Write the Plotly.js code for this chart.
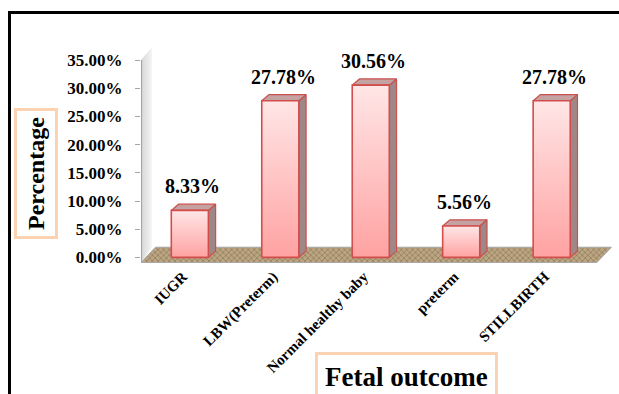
<!DOCTYPE html>
<html>
<head>
<meta charset="utf-8">
<script src="https://cdn.plot.ly/plotly-3.0.1.min.js"></script>
<style>
  html, body { margin:0; padding:0; background:#fff; }
  #frame { position:absolute; left:8px; top:11px; width:700px; height:500px; border:3px solid #000; }
  #chart { position:absolute; left:0; top:0; width:619px; height:394px; }
</style>
</head>
<body>
<div id="frame"></div>
<div id="chart"></div>
<script>
// ---- data ----
const categories = ['IUGR', 'LBW(Preterm)', 'Normal healthy baby', 'preterm', 'STILLBIRTH'];
const values = [8.33, 27.78, 30.56, 5.56, 27.78];
const yTickVals = [0, 5, 10, 15, 20, 25, 30, 35];
const yTickText = ['0.00%', '5.00%', '10.00%', '15.00%', '20.00%', '25.00%', '30.00%', '35.00%'];
const valueLabels = ['8.33%', '27.78%', '30.56%', '5.56%', '27.78%'];

// ---- styling / 3D geometry (in axis units) ----
const serif = '"Liberation Serif", "Times New Roman", serif';
const halfW = 0.205, dX = 0.08, dY = 1.1;
const xIdx = categories.map((c, i) => i);

const traces = [];

// floor
traces.push({
  type: 'scatter', mode: 'lines', fill: 'toself',
  x: [-0.54, 4.5, 4.66, -0.38, -0.54],
  y: [-0.9, -0.9, 1.8, 1.8, -0.9],
  fillcolor: '#A8916E',
  fillpattern: {shape: 'x', fgcolor: '#8C7452', bgcolor: '#BBA684', size: 4, solidity: 0.3},
  line: {color: '#A6A6A6', width: 1},
  hoverinfo: 'skip', showlegend: false
});
// side wall
traces.push({
  type: 'scatter', mode: 'lines', fill: 'toself',
  x: [-0.54, -0.54, -0.42, -0.42, -0.54],
  y: [-0.9, 35, 37.3, 1.8, -0.9],
  fillcolor: '#E4E4E4',
  fillgradient: {type: 'horizontal', colorscale: [[0, '#D6D6D6'], [1, '#F4F4F4']], start: -0.54, stop: -0.42},
  line: {color: 'rgba(0,0,0,0)', width: 0},
  hoverinfo: 'skip', showlegend: false
});
// y axis line
traces.push({
  type: 'scatter', mode: 'lines',
  x: [-0.535, -0.535], y: [-0.9, 35],
  line: {color: '#A6A6A6', width: 1.3},
  hoverinfo: 'skip', showlegend: false
});

values.forEach((v, i) => {
  const x = xIdx[i];
  // side face
  traces.push({
    type: 'scatter', mode: 'lines', fill: 'toself',
    x: [x + halfW, x + halfW + dX, x + halfW + dX, x + halfW, x + halfW],
    y: [0, dY, v + dY, v, 0],
    fillcolor: '#A08787',
    line: {color: '#C9504E', width: 1.2},
    hoverinfo: 'skip', showlegend: false
  });
  // top face
  traces.push({
    type: 'scatter', mode: 'lines', fill: 'toself',
    x: [x - halfW, x - halfW + dX, x + halfW + dX, x + halfW, x - halfW],
    y: [v, v + dY, v + dY, v, v],
    fillcolor: '#C4A2A2',
    line: {color: '#C9504E', width: 1.2},
    hoverinfo: 'skip', showlegend: false
  });
  // front face
  traces.push({
    type: 'scatter', mode: 'lines', fill: 'toself',
    x: [x - halfW, x - halfW, x + halfW, x + halfW, x - halfW],
    y: [0, v, v, 0, 0],
    fillcolor: '#FFC0C0',
    fillgradient: {type: 'vertical', colorscale: [[0, '#FFA2A2'], [1, '#FFE6E6']], start: 0, stop: v},
    line: {color: '#D24E4C', width: 1.6},
    hoverinfo: 'skip', showlegend: false
  });
});

const annotations = values.map((v, i) => ({
  x: xIdx[i], y: v + dY, xref: 'x', yref: 'y',
  text: valueLabels[i], showarrow: false,
  xanchor: 'center', yanchor: 'bottom', yshift: 5, xshift: 3,
  font: {family: serif, size: 20, color: '#000', weight: 'bold'}
}));

annotations.push({
  xref: 'paper', yref: 'paper', x: 0, y: 0, xshift: -105, yshift: 89,
  xanchor: 'center', yanchor: 'middle', textangle: -90,
  text: 'Percentage', showarrow: false,
  font: {family: serif, size: 24, color: '#000', weight: 'bold'},
  bgcolor: '#fff', bordercolor: '#FBD3B3', borderwidth: 3, borderpad: 6
});
annotations.push({
  xref: 'paper', yref: 'paper', x: 0, y: 0, xshift: 265, yshift: -114,
  xanchor: 'center', yanchor: 'middle',
  text: 'Fetal outcome', showarrow: false,
  font: {family: serif, size: 27, color: '#000', weight: 'bold'},
  bgcolor: '#fff', bordercolor: '#FBD3B3', borderwidth: 3, borderpad: 7
});

const layout = {
  width: 619, height: 394,
  margin: {l: 141, r: 4, t: 46, b: 131},
  paper_bgcolor: 'rgba(0,0,0,0)', plot_bgcolor: 'rgba(0,0,0,0)',
  showlegend: false,
  xaxis: {
    range: [-0.54, 4.7], tickvals: xIdx, ticktext: categories,
    tickangle: -45, showgrid: false, zeroline: false, showline: false, ticks: '',
    ticklabelstandoff: 1, ticklabelshift: -7,
    tickfont: {family: serif, size: 15, color: '#000', weight: 'bold'}
  },
  yaxis: {
    range: [-1.0, 37.5], tickvals: yTickVals, ticktext: yTickText,
    showgrid: false, zeroline: false, showline: false,
    ticks: 'outside', ticklen: 5, tickcolor: '#A6A6A6', tickwidth: 1,
    ticklabelstandoff: 9,
    tickfont: {family: serif, size: 17, color: '#000', weight: 'bold'}
  },
  annotations: annotations
};

Plotly.newPlot('chart', traces, layout, {staticPlot: true, displayModeBar: false});
</script>
</body>
</html>
